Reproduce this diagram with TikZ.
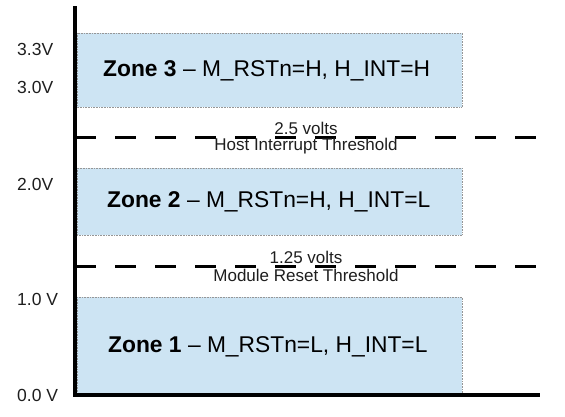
\documentclass[tikz,border=0pt]{standalone}
\usepackage{fontspec}
\setmainfont{Liberation Sans}
\definecolor{zonefill}{RGB}{205,228,243}
\definecolor{zoneborder}{RGB}{150,150,150}
\definecolor{txt}{RGB}{30,30,30}
\begin{document}
\begin{tikzpicture}[x=1pt,y=-1pt,
  zone/.style={fill=zonefill,draw=zoneborder,densely dotted,line width=0.6pt},
  axisline/.style={line width=3.5pt,black},
  thresh/.style={line width=3pt,dash pattern=on 21pt off 19pt},
  ylab/.style={font=\fontsize{17.5}{19}\selectfont,text=txt,inner sep=0pt,anchor=west},
  zlab/.style={font=\fontsize{22.8}{25}\selectfont,text=black,inner sep=0pt,anchor=west},
  tlab/.style={font=\fontsize{17}{19}\selectfont,text=txt,inner sep=0pt}]
\useasboundingbox (0,0) rectangle (565,416);
% zones
\draw[zone] (77,33) rectangle (462,107);
\draw[zone] (77,168) rectangle (462,235);
\draw[zone] (77,297) rectangle (462,394);
% axes
\coordinate (top) at (75,6);
\coordinate (origin) at (75,395);
\coordinate (xend) at (540,395);
\draw[axisline] (top) -- (origin) -- (xend);
% thresholds
\coordinate (h1) at (75,137);
\coordinate (h2) at (541,137);
\coordinate (m1) at (75,266);
\coordinate (m2) at (541,266);
\draw[thresh] (h1) -- (h2);
\draw[thresh] (m1) -- (m2);
% zone labels
\node[zlab] (z3) at (103,71) {\textbf{Zone 3} – M\_RSTn=H, H\_INT=H};
\node[zlab] (z2) at (107,202) {\textbf{Zone 2} – M\_RSTn=H, H\_INT=L};
\node[zlab] (z1) at (108,347) {\textbf{Zone 1} – M\_RSTn=L, H\_INT=L};
% threshold labels
\node[tlab] (t1a) at (306,128) {2.5 volts};
\node[tlab] (t1b) at (306,146) {Host Interrupt Threshold};
\node[tlab] (t2a) at (306,257) {1.25 volts};
\node[tlab] (t2b) at (306,275) {Module Reset Threshold};
% y labels
\node[ylab] (v33) at (17,49) {3.3V};
\node[ylab] (v30) at (17,87) {3.0V};
\node[ylab] (v20) at (17,184) {2.0V};
\node[ylab] (v10) at (17,299) {1.0 V};
\node[ylab] (v00) at (17,395) {0.0 V};
\end{tikzpicture}
\end{document}
